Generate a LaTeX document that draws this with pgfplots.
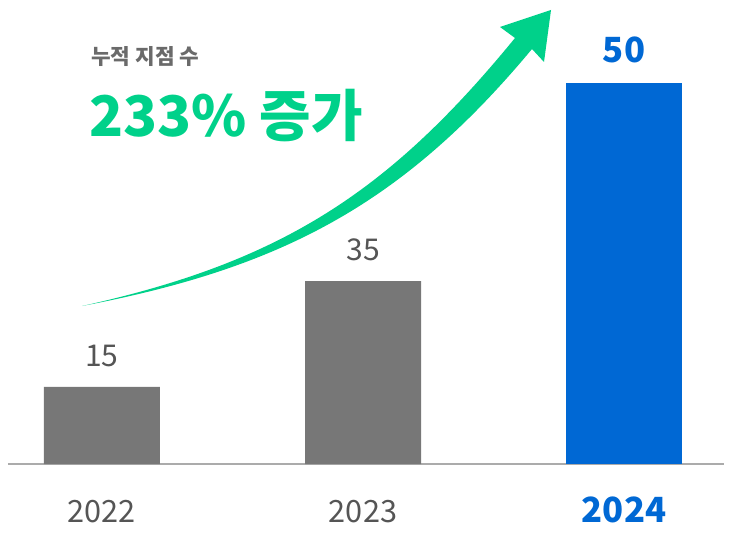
\documentclass[border=0pt]{standalone}
\usepackage{fontspec}
\setmainfont{Noto Sans CJK KR}
\usepackage{pgfplots}
\pgfplotsset{compat=1.18}
\definecolor{bargray}{HTML}{777777}
\definecolor{labelgray}{HTML}{555555}
\definecolor{titlegray}{HTML}{6A6A6A}
\definecolor{linegray}{HTML}{ABABAB}
\definecolor{myblue}{HTML}{0068D4}
\definecolor{mygreen}{HTML}{00D18A}
\begin{document}
\begin{tikzpicture}
% 734x534 px page, 1px = 0.75pt, origin at top left
\path[use as bounding box] (0,0) rectangle (550.5pt,-400.5pt);
\begin{axis}[
  at={(6pt,-348pt)}, anchor=south west,
  scale only axis, width=537pt, height=348pt,
  xmin=-0.36, xmax=2.383, ymin=0, ymax=90.1,
  clip=false,
  axis line style={draw=none},
  ytick=\empty,
  xtick={0,1,2},
  major tick length=0pt,
  xticklabels={2022,2023,{\bfseries\color{myblue}\fontsize{26pt}{30pt}\selectfont 2024}},
  xticklabel style={font=\fontsize{23pt}{28pt}\selectfont, text=labelgray,
    anchor=base, inner sep=0pt, yshift=-44pt},
]
\draw[linegray, line width=1.5pt] (rel axis cs:0,0) -- (rel axis cs:1,0);
\addplot[ybar, bar width=87pt, bar shift=0pt, fill=bargray, draw=none,
  nodes near coords, point meta=explicit symbolic,
  nodes near coords style={font=\fontsize{22.5pt}{27pt}\selectfont, text=labelgray,
    anchor=south, inner sep=0pt, yshift=15pt}]
  coordinates {(0,15) [15] (1,35.5) [35]};
\addplot[ybar, bar width=87pt, bar shift=0pt, fill=myblue, draw=none,
  nodes near coords, point meta=explicit symbolic,
  nodes near coords style={font=\bfseries\fontsize{26pt}{30pt}\selectfont, text=myblue,
    anchor=south, inner sep=0pt, yshift=15pt}]
  coordinates {(2,74) [50]};
\end{axis}
\begin{scope}[x=0.75pt, y=-0.75pt]
\fill[mygreen] (82,306) .. controls (282,262) and (389,192) .. (515,38)
  -- (500,27) -- (551,10) -- (544,62) -- (532,49)
  .. controls (403,204) and (282,268) .. (82,306) -- cycle;
\node[anchor=base west, inner sep=0pt, text=titlegray,
  font=\bfseries\fontsize{16pt}{19pt}\selectfont] at (91,65) {누적 지점 수};
\node[anchor=base west, inner sep=0pt, text=mygreen,
  font=\bfseries\fontsize{42pt}{48pt}\selectfont] at (89,137) {233\% 증가};
\end{scope}
\end{tikzpicture}
\end{document}
